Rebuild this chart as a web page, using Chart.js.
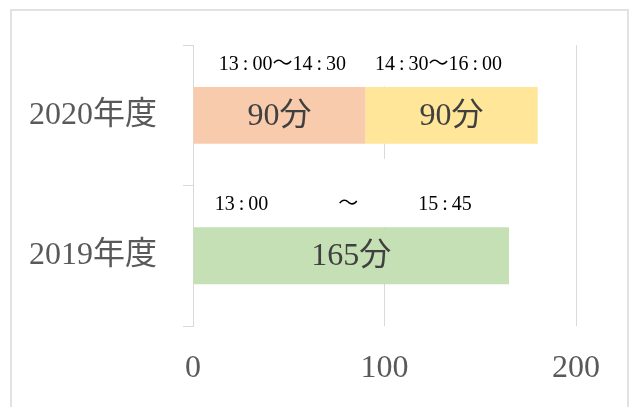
<!DOCTYPE html>
<html>
<head>
<meta charset="utf-8">
<script src="https://cdn.jsdelivr.net/npm/chart.js@4"></script>
<style>
  html, body { margin: 0; padding: 0; background: #fff; }
  #wrap { position: relative; width: 632px; height: 407px; overflow: hidden; }
  #frame {
    position: absolute; left: 10px; top: 9px; width: 619px; height: 420px;
    border: 2px solid #e2e2e2; box-sizing: border-box;
  }
  #chart { position: absolute; left: 0; top: 0; }
</style>
</head>
<body>
<div id="wrap">
  <div id="frame"></div>
  <canvas id="chart" width="632" height="407"></canvas>
</div>
<script>
// data
const categories = ['2020年度', '2019年度'];
const firstPart = [90, 165];
const secondPart = [90, null];
const xTicks = [0, 100, 200];
const timeLabels = [
  ['13\u2009:\u200900～14\u2009:\u200930', '14\u2009:\u200930～16\u2009:\u200900'],
  ['13\u2009:\u200900　　　\u2002～　　　15\u2009:\u200945'],
];

// colours
const COLORS = {
  peach: '#F8CBAD',
  yellow: '#FFE699',
  green: '#C5E0B4',
  grid: '#D9D9D9',
  axisText: '#595959',
  valueText: '#404040',
};

const SERIF = "'Liberation Serif', 'Noto Sans CJK JP', serif";

// label nudges (px) relative to the segment centre, as placed in the original
const timeLabelNudge = [[3, -13], [-8]];

// draws the white-backed time labels above the bars and the "n分" labels inside
const labelPlugin = {
  id: 'labels',
  beforeDatasetsDraw(chart) {
    const ctx = chart.ctx;
    ctx.save();
    ctx.font = '20px ' + SERIF;
    forEachTimeLabel(chart, (text, x, y) => {
      const w = ctx.measureText(text).width;
      ctx.fillStyle = '#fff';
      ctx.fillRect(x - w / 2 - 6, y - 46, w + 12, 68);
    });
    ctx.restore();
  },
  afterDatasetsDraw(chart) {
    const ctx = chart.ctx;
    ctx.save();
    ctx.textAlign = 'center';
    ctx.textBaseline = 'middle';
    ctx.font = '20px ' + SERIF;
    ctx.fillStyle = '#000';
    forEachTimeLabel(chart, (text, x, y) => ctx.fillText(text, x, y));

    ctx.font = '32px ' + SERIF;
    ctx.fillStyle = COLORS.valueText;
    chart.data.datasets.forEach((ds, di) => {
      chart.getDatasetMeta(di).data.forEach((bar, i) => {
        const v = ds.data[i];
        if (v == null) return;
        ctx.fillText(v + '分', (bar.x + bar.base) / 2, bar.y + 1);
      });
    });
    ctx.restore();
  },
};

function forEachTimeLabel(chart, fn) {
  timeLabels.forEach((row, i) => {
    row.forEach((text, j) => {
      const bar = chart.getDatasetMeta(row.length === 1 ? 0 : j).data[i];
      const x = (bar.x + bar.base) / 2 + timeLabelNudge[i][j];
      const y = bar.y - 51;
      fn(text, x, y);
    });
  });
}

new Chart(document.getElementById('chart'), {
  type: 'bar',
  data: {
    labels: categories,
    datasets: [
      {
        label: '前半',
        data: firstPart,
        backgroundColor: [COLORS.peach, COLORS.green],
        borderWidth: 0,
        barPercentage: 1.0,
        categoryPercentage: 0.405,
      },
      {
        label: '後半',
        data: secondPart,
        backgroundColor: COLORS.yellow,
        borderWidth: 0,
        barPercentage: 1.0,
        categoryPercentage: 0.405,
      },
    ],
  },
  plugins: [labelPlugin],
  options: {
    indexAxis: 'y',
    responsive: false,
    animation: false,
    layout: { padding: { left: 0, right: 56, top: 44, bottom: 0 } },
    plugins: {
      legend: { display: false },
      tooltip: { enabled: false },
    },
    scales: {
      x: {
        stacked: true,
        min: xTicks[0],
        max: xTicks[xTicks.length - 1],
        afterBuildTicks: scale => { scale.ticks = xTicks.map(v => ({ value: v })); },
        afterFit: scale => { scale.height = 81; },
        border: { display: false },
        grid: { color: COLORS.grid, lineWidth: 1, drawTicks: false },
        ticks: {
          color: COLORS.axisText,
          font: { family: SERIF, size: 32 },
          padding: 23,
          maxRotation: 0,
        },
      },
      y: {
        stacked: true,
        afterFit: scale => { scale.width = 193; },
        border: { display: true, color: COLORS.grid, width: 1 },
        grid: {
          offset: true,
          drawOnChartArea: false,
          drawTicks: true,
          tickLength: 10,
          color: COLORS.grid,
        },
        ticks: {
          color: COLORS.axisText,
          font: { family: SERIF, size: 32 },
          padding: 26,
        },
      },
    },
  },
});
</script>
</body>
</html>
